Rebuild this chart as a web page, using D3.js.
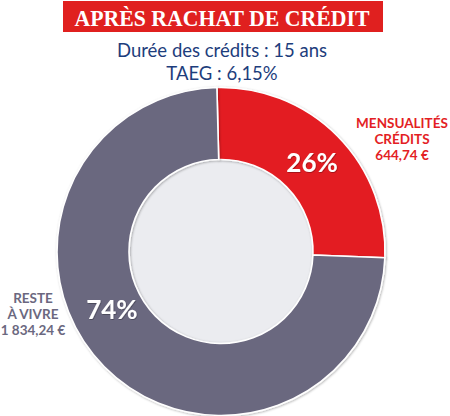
<!DOCTYPE html>
<html lang="fr">
<head>
<meta charset="utf-8">
<script src="https://cdn.jsdelivr.net/npm/d3@7/dist/d3.min.js"></script>
<style>
  html, body { margin: 0; padding: 0; background: #fff; }
  svg { display: block; }
</style>
</head>
<body>
<div id="chart"></div>
<script>
'use strict';

// chart data
const title = 'APRÈS RACHAT DE CRÉDIT';
const subtitles = ['Durée des crédits : 15 ans', 'TAEG : 6,15%'];
const categories = ['MENSUALITÉS CRÉDITS', 'RESTE À VIVRE'];
const shares = [26, 74];
const amounts = ['644,74 €', '1 834,24 €'];
const labelLines = [['MENSUALITÉS', 'CRÉDITS'], ['RESTE', 'À VIVRE']];

const WIDTH = 450;
const HEIGHT = 416;
const colors = d3.scaleOrdinal().domain(categories).range(['#e31e24', '#6b687f']);
const labelColors = d3.scaleOrdinal().domain(categories).range(['#e31e24', '#6b687f']);

const svg = d3.select('#chart')
  .append('svg')
  .attr('width', WIDTH)
  .attr('height', HEIGHT)
  .attr('viewBox', `0 0 ${WIDTH} ${HEIGHT}`);

const defs = svg.append('defs');
const shadow = defs.append('filter')
  .attr('id', 'arcShadow')
  .attr('x', '-10%').attr('y', '-10%')
  .attr('width', '120%').attr('height', '120%');
shadow.append('feDropShadow')
  .attr('dx', 0.8).attr('dy', 0.8)
  .attr('stdDeviation', 0.8)
  .attr('flood-color', '#000')
  .attr('flood-opacity', 0.3);

const textShadow = defs.append('filter').attr('id', 'textShadow');
textShadow.append('feDropShadow')
  .attr('dx', 0.6).attr('dy', 0.8)
  .attr('stdDeviation', 0.6)
  .attr('flood-color', '#000')
  .attr('flood-opacity', 0.35);

// title banner
svg.append('rect')
  .attr('x', 63).attr('y', 1)
  .attr('width', 320).attr('height', 31)
  .attr('fill', '#e0201f');
svg.append('text')
  .attr('x', 222).attr('y', 26)
  .attr('text-anchor', 'middle')
  .attr('font-family', '"Liberation Serif", "DejaVu Serif", serif')
  .attr('font-weight', 'bold')
  .attr('font-size', 23)
  .attr('textLength', 295)
  .attr('lengthAdjust', 'spacingAndGlyphs')
  .attr('fill', '#fff')
  .text(title);

svg.selectAll('text.subtitle')
  .data(subtitles)
  .enter()
  .append('text')
  .classed('subtitle', true)
  .attr('x', 222)
  .attr('y', (d, i) => 57 + i * 23)
  .attr('text-anchor', 'middle')
  .attr('font-family', 'Lato, "Open Sans", sans-serif')
  .attr('font-size', 18.5)
  .attr('fill', '#1d3d7c')
  .text((d) => d);

// donut
const cx = 221;
const cy = 251.5;
const outerRadius = 164;
const innerRadius = 92;

const pie = d3.pie()
  .sort(null)
  .value((d) => d.share)
  .startAngle(-0.025)
  .endAngle(2 * Math.PI - 0.025);

const arc = d3.arc()
  .innerRadius(innerRadius)
  .outerRadius(outerRadius);

const slices = pie(categories.map((c, i) => ({
  category: c, share: shares[i], amount: amounts[i], lines: labelLines[i],
})));

const donut = svg.append('g')
  .attr('transform', `translate(${cx},${cy})`);

donut.append('circle')
  .attr('r', innerRadius)
  .attr('fill', '#ebecf0');

donut.selectAll('path.slice')
  .data(slices)
  .enter()
  .append('path')
  .classed('slice', true)
  .attr('d', arc)
  .attr('fill', (d) => colors(d.data.category))
  .attr('stroke', '#fff')
  .attr('stroke-width', 1.6)
  .attr('filter', 'url(#arcShadow)');

// percentage labels inside the ring
const pctOffsets = [[0, 10], [-18, -22]];

donut.selectAll('text.pct')
  .data(slices)
  .enter()
  .append('text')
  .classed('pct', true)
  .attr('x', (d, i) => arc.centroid(d)[0] + pctOffsets[i][0])
  .attr('y', (d, i) => arc.centroid(d)[1] + pctOffsets[i][1])
  .attr('text-anchor', 'middle')
  .attr('font-family', 'Lato, "Open Sans", sans-serif')
  .attr('font-weight', 'bold')
  .attr('font-size', 26)
  .attr('fill', '#fff')
  .attr('filter', 'url(#textShadow)')
  .text((d) => `${d.data.share}%`);

// outside category labels
const labelPos = [[402, 128], [33, 303]];
const labelGroups = svg.selectAll('g.catLabel')
  .data(slices)
  .enter()
  .append('g')
  .classed('catLabel', true)
  .attr('transform', (d, i) => `translate(${labelPos[i][0]},${labelPos[i][1]})`);

labelGroups.each(function (d) {
  const g = d3.select(this);
  const rows = d.data.lines.concat([d.data.amount]);
  g.selectAll('text')
    .data(rows)
    .enter()
    .append('text')
    .attr('y', (r, j) => j * 16)
    .attr('text-anchor', 'middle')
    .attr('font-family', 'Lato, "Open Sans", sans-serif')
    .attr('font-weight', 'bold')
    .attr('font-size', 13.5)
    .attr('fill', labelColors(d.data.category))
    .text((r) => r);
});
</script>
</body>
</html>
